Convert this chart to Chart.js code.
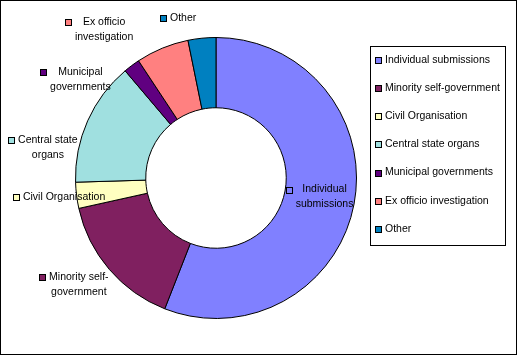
<!DOCTYPE html>
<html><head><meta charset="utf-8">
<script src="https://cdn.jsdelivr.net/npm/chart.js@4"></script>
<style>html,body{margin:0;padding:0;background:#fff;} canvas{display:block}</style>
</head><body>
<canvas id="c" width="517" height="355"></canvas>
<script>
const categories = ['Individual submissions','Minority self-government','Civil Organisation','Central state organs','Municipal governments','Ex officio investigation','Other'];
const values = [56.0, 15.6, 3.0, 14.3, 1.9, 6.1, 3.2];
const colors = ['#8080FF','#802060','#FFFFC0','#A0E0E0','#600080','#FF8080','#0080C0'];
const labelLines = [['Individual','submissions'],['Minority self-','government'],['Civil Organisation'],['Central state','organs'],['Municipal','governments'],['Ex officio','investigation'],['Other']];
const labelInside = [true,false,false,false,false,false,false];
const labelNudge = [[5,-0.5],[-30.4,15.3],[-12.5,1.7],[-39.8,26.6],[-51.3,13.6],[-58.2,-18.6],[-18.8,-20.1]];

const FONT = '10.5px "Liberation Sans", Arial, sans-serif';

function keyBox(ctx, x, y, color){
  x = Math.round(x); y = Math.round(y);
  ctx.fillStyle = color;
  ctx.fillRect(x, y, 6, 6);
  ctx.strokeStyle = '#000'; ctx.lineWidth = 1;
  ctx.strokeRect(x + 0.5, y + 0.5, 6, 6);
}

const decor = {
  id: 'decor',
  beforeDraw(chart){
    const ctx = chart.ctx;
    ctx.save(); ctx.fillStyle = '#fff'; ctx.fillRect(0,0,chart.width,chart.height); ctx.restore();
  },
  afterDraw(chart){
    const ctx = chart.ctx;
    const meta = chart.getDatasetMeta(0);
    ctx.save();
    ctx.font = FONT;
    ctx.textBaseline = 'middle';
    meta.data.forEach((arc, i) => {
      const p = arc.getProps(['x','y','startAngle','endAngle','innerRadius','outerRadius'], true);
      const mid = (p.startAngle + p.endAngle) / 2;
      const r = labelInside[i] ? (p.innerRadius + p.outerRadius) / 2 : p.outerRadius;
      const cx = p.x + Math.cos(mid) * r + labelNudge[i][0];
      const cy = p.y + Math.sin(mid) * r + labelNudge[i][1];
      const lines = labelLines[i];
      const w = Math.max(...lines.map(l => ctx.measureText(l).width));
      const y0 = cy - (lines.length - 1) * 7.5;
      ctx.fillStyle = '#000';
      ctx.textAlign = 'center';
      lines.forEach((l, k) => ctx.fillText(l, cx, y0 + k * 15));
      keyBox(ctx, cx - w / 2 - 10, y0 - 3, colors[i]);
    });
    // legend
    ctx.strokeStyle = '#000'; ctx.lineWidth = 1;
    ctx.strokeRect(370.5, 46.5, 135, 199);
    ctx.textAlign = 'left';
    categories.forEach((c, i) => {
      const y = 60 + i * 28.15;
      keyBox(ctx, 375, y - 3, colors[i]);
      ctx.fillStyle = '#000';
      ctx.fillText(c, 385, y);
    });
    // outer frame
    ctx.strokeStyle = '#000';
    ctx.strokeRect(0.5, 0.5, 516, 354);
    ctx.restore();
  }
};

new Chart(document.getElementById('c'), {
  type: 'doughnut',
  data: {
    labels: categories,
    datasets: [{
      data: values,
      backgroundColor: colors,
      borderColor: '#000',
      borderWidth: 1,
      hoverOffset: 0
    }]
  },
  options: {
    responsive: false,
    animation: false,
    cutout: '50%',
    layout: { padding: { top: 37, bottom: 36, left: 75, right: 160 } },
    plugins: { legend: { display: false }, tooltip: { enabled: false } }
  },
  plugins: [decor]
});
</script>
</body></html>
